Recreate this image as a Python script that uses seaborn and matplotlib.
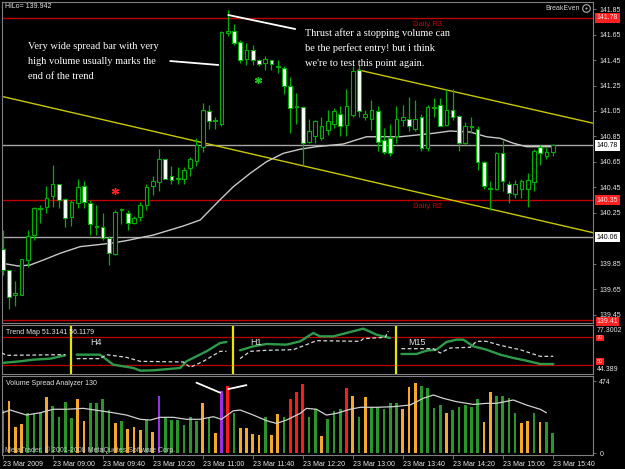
import matplotlib
matplotlib.use('Agg')
import matplotlib.pyplot as plt
import numpy as np
import pandas as pd
import seaborn as sns
from matplotlib.lines import Line2D

# ---------------- data ----------------
bar_idx = list(range(89))
opens = [139.97,139.80,139.61,139.61,139.88,140.08,140.28,140.30,140.38,140.48,
         140.36,140.22,140.33,140.46,140.33,140.15,140.14,140.05,139.93,140.28,
         140.25,140.17,140.22,140.31,140.46,140.49,140.67,140.54,140.515,140.52,
         140.60,140.66,140.77,141.05,140.98,140.95,141.665,141.68,141.59,141.46,
         141.53,141.45,141.43,141.45,141.395,141.39,141.25,141.08,141.08,140.81,
         140.85,140.84,140.90,140.95,141.03,140.94,141.02,141.37,141.00,140.99,
         141.05,140.82,140.84,140.85,140.98,140.985,140.91,141.00,140.76,141.075,
         141.10,140.94,141.06,141.01,140.80,140.935,140.91,140.65,140.44,140.44,
         140.72,140.48,140.40,140.44,140.44,140.49,140.77,140.70,140.73]
highs = [140.12,139.80,139.72,139.89,140.12,140.30,140.31,140.46,140.63,140.48,
         140.37,140.35,140.52,140.50,140.35,140.31,140.25,140.07,140.27,140.29,
         140.27,140.23,140.34,140.48,140.54,140.75,140.67,140.62,140.61,140.61,
         140.69,140.84,141.11,141.10,141.00,141.68,141.84,141.73,141.61,141.58,
         141.57,141.46,141.48,141.45,141.45,141.40,141.32,141.19,141.09,140.99,
         140.98,141.00,141.06,141.07,141.09,141.22,141.40,141.41,141.06,141.14,
         141.09,140.92,140.95,141.09,141.10,141.16,141.14,141.03,141.10,141.15,
         141.15,141.22,141.22,141.02,140.96,141.00,140.93,140.66,140.50,140.73,
         140.82,140.50,140.51,140.52,140.56,140.75,140.78,140.77,140.79]
lows = [139.76,139.50,139.52,139.61,139.83,140.04,140.17,140.25,140.30,140.29,
        140.14,140.15,140.29,140.29,140.08,140.08,140.04,139.84,139.92,140.16,
        140.12,140.16,140.19,140.27,140.39,140.42,140.52,140.48,140.48,140.48,
        140.54,140.62,140.73,140.91,140.91,140.93,141.64,141.57,141.43,141.41,
        141.41,141.40,141.37,141.37,141.345,141.18,140.88,140.95,140.63,140.80,
        140.80,140.82,140.86,140.92,140.85,140.85,141.00,141.00,140.98,140.90,
        140.74,140.71,140.70,140.80,140.93,140.89,140.89,140.74,140.74,141.00,
        140.93,140.93,140.98,140.74,140.78,140.875,140.59,140.44,140.27,140.43,
        140.42,140.33,140.37,140.37,140.30,140.42,140.63,140.67,140.70]
closes = [139.80,139.59,139.62,139.89,140.07,140.29,140.29,140.37,140.48,140.35,
          140.21,140.34,140.45,140.34,140.16,140.14,140.05,139.94,140.26,140.27,
          140.17,140.21,140.31,140.45,140.50,140.67,140.52,140.51,140.52,140.59,
          140.67,140.78,141.06,140.97,140.975,141.67,141.675,141.58,141.45,141.53,
          141.45,141.42,141.46,141.42,141.40,141.25,141.07,141.085,140.80,140.89,
          140.97,140.93,140.97,141.05,140.93,141.09,141.36,141.05,141.03,141.06,
          140.81,140.73,140.72,140.99,141.00,140.93,140.99,140.76,141.08,141.085,
          140.93,141.06,141.00,140.80,140.93,140.925,140.65,140.46,140.445,140.72,
          140.50,140.41,140.48,140.50,140.51,140.74,140.72,140.73,140.78]

ma_x = [0,2.5,4.4,6.5,9.2,12.4,17.2,19.8,24.1,28.9,31.6,34.5,36.9,39.6,42.2,44.9,
        47.6,50.2,54.5,58.2,63.6,68.9,71.6,74.8,77.4,79.6,81.7,83.8,88.1]
ma_y = [139.855,139.834,139.842,139.881,139.934,139.986,140.012,140.033,140.077,
        140.148,140.195,140.34,140.456,140.561,140.652,140.718,140.75,140.77,140.791,
        140.848,140.848,140.875,140.893,140.885,140.848,140.836,140.797,140.77,140.77]

trend1_x = [0.1, 94.5]
trend1_y = [141.162, 140.095]
trend2_x = [56.9, 94.5]
trend2_y = [141.372, 140.954]

red_levels = [141.78, 140.35, 139.41]
gray_levels = [140.78, 140.06]
price_ticks = [141.85,141.65,141.45,141.25,141.05,140.85,140.65,140.45,140.25,139.85,139.65,139.45]

note1_x = [26.8, 34.5]; note1_y = [141.442, 141.411]
note2_x = [36.1, 46.8]; note2_y = [141.803, 141.693]

# Trend Map
tm_g1_x = [-0.16,2.77,4.9,7.6,10.0]
tm_g1_y = [51.45,52.65,53.85,54.58,56.98]
tm_w1_x = [-0.16,0.64,10.0]
tm_w1_y = [58.67,56.98,57.46]
tm_g2_x = [11.84,15.57,17.7,20.9,22.0,24.1,28.4,29.4,32.6,34.8,35.8]
tm_g2_y = [57.46,57.46,50.24,47.84,45.91,46.15,47.84,52.65,59.87,65.89,66.61]
tm_w2_x = [11.84,15.57,16.6,19.8,22.0,28.9,30.0,32.1,34.8,35.8]
tm_w2_y = [54.58,54.58,57.46,55.54,52.65,52.17,48.32,52.65,59.87,59.87]
tm_g3_x = [37.97,40.1,42.2,45.4,47.6,49.7,50.77,52.9,55.0,57.7,59.8,61.97]
tm_g3_y = [60.59,63.48,65.17,64.68,67.09,73.11,70.70,70.70,73.11,76.24,71.91,69.50]
tm_w3_x = [37.97,39.6,42.2,46.5,48.6,50.2,57.2,57.7,61.2,61.7]
tm_w3_y = [54.58,59.87,60.59,61.07,64.68,67.57,67.09,69.02,70.0,74.31]
tm_g4_x = [63.8,66.2,67.8,69.4,71.0,72.6,73.7,75.3,77.4,79.6,81.7,83.8,86.0,88.1]
tm_g4_y = [57.94,57.94,60.35,61.07,66.61,68.29,68.29,63.48,61.07,57.46,55.06,53.13,50.72,50.72]
tm_w4_x = [63.8,68.9,70.0,71.6,74.8,75.8,77.4,79.6,82.8,86.0,88.1]
tm_w4_y = [61.80,61.80,58.67,62.28,62.76,67.09,67.09,64.20,61.07,56.26,56.26]
tm_sep_x = [10.9, 36.9, 62.9]
tm_levels = [70, 50]
tm_names = ['H4', 'H1', 'M15']
tm_name_x = [14.9, 40.6, 66.3]

# Volume
volumes = [283,342,173,189,261,261,265,366,309,235,
           333,228,355,211,331,331,353,283,195,213,
           156,169,151,217,136,375,239,217,217,184,
           235,213,327,239,134,408,441,265,162,162,
           125,118,239,118,257,239,353,399,454,239,
           288,112,222,278,288,425,375,235,366,301,
           305,288,331,327,288,432,463,441,425,294,
           316,265,283,301,316,305,353,206,404,377,
           375,360,261,195,213,261,206,202,129]
vol_kind = ['G','O','O','O','G','G','G','O','G','G',
            'G','G','O','O','G','G','G','G','O','G',
            'O','O','O','G','O','P','G','G','G','G',
            'G','G','O','G','O','P','R','G','O','O',
            'O','O','G','O','O','G','R','R','R','G',
            'G','O','G','G','G','R','O','G','O','G',
            'G','G','G','G','O','O','O','G','G','G',
            'G','O','G','G','G','G','G','O','O','G',
            'G','G','G','O','O','G','O','G','G']
vma_x = [0,1.2,3.8,6.0,8.1,10.2,12.9,15.6,17.7,19.8,22.0,23.6,25.2,27.3,29.4,31.6,33.7,
         35.0,36.9,38.0,40.1,42.2,43.8,45.4,47.6,48.6,50.2,51.8,53.4,55.6,57.2,59.8,
         62.5,65.2,67.3,68.9,70.5,72.6,75.3,77.4,79.0,81.7,83.8,86.0,87.0]
vma_y = [265,283,250,265,288,288,294,278,265,250,222,217,235,235,222,222,239,
         222,278,283,250,213,195,217,261,294,288,250,261,288,301,301,
         305,316,360,382,360,338,320,327,327,349,316,288,265]
vnote1_x = [31.0, 34.8]; vnote1_y = [463, 397]
vnote2_x = [36.1, 39.0]; vnote2_y = [421, 447]

time_ticks = [0,8,16,24,32,40,48,56,64,72,80,88]
time_labels = ['23 Mar 2009','23 Mar 09:00','23 Mar 09:40','23 Mar 10:20','23 Mar 11:00',
               '23 Mar 11:40','23 Mar 12:20','23 Mar 13:00','23 Mar 13:40','23 Mar 14:20',
               '23 Mar 15:00','23 Mar 15:40']

# ---------------- style ----------------
sns.set_style('ticks')
plt.rcParams['font.family'] = ['Liberation Sans', 'DejaVu Sans']
plt.rcParams['patch.edgecolor'] = 'none'
W, H = 625, 469
fig = plt.figure(figsize=(W/100, H/100), dpi=100, facecolor='black')

def add_ax(l, t, r, b):
    return fig.add_axes([l/W, 1 - b/H, (r - l)/W, (b - t)/H])

ax = add_ax(2, 2, 593, 323)
ax_tm = add_ax(2, 325, 593, 374)
ax_v = add_ax(2, 376, 593, 455)
XL = (-0.11, 94.45)
TXT = '#e6e6e6'
for a in (ax, ax_tm, ax_v):
    a.set_facecolor('black')
    for s in a.spines.values():
        s.set_color('#808080'); s.set_linewidth(0.8)
    a.set_xlim(*XL)
    a.tick_params(axis='x', bottom=False, labelbottom=False)
    a.yaxis.tick_right()
    a.tick_params(axis='y', colors='#808080', labelcolor=TXT, labelsize=5,
                  length=2.5, width=0.6, pad=2)

# ---------- main price panel ----------
GREEN = '#00b000'
ax.set_ylim(139.387, 141.905)
ax.set_yticks(price_ticks)
ax.set_yticklabels([f'{t:.2f}' for t in price_ticks])
for lv in red_levels:
    ax.axhline(lv, color='#c00000', lw=1.0, zorder=1)
for lv in gray_levels:
    ax.axhline(lv, color='#a8a8a8', lw=1.0, zorder=1)

sns.lineplot(x=trend1_x, y=trend1_y, color='#c8c800', lw=1.0, ax=ax, estimator=None, sort=False, zorder=2)
sns.lineplot(x=trend2_x, y=trend2_y, color='#c8c800', lw=1.0, ax=ax, estimator=None, sort=False, zorder=2)
sns.lineplot(x=ma_x, y=ma_y, color='#c8c8c8', lw=1.0, ax=ax, estimator=None, sort=False, zorder=2)

o = np.array(opens); c = np.array(closes)
ax.vlines(bar_idx, lows, highs, color=GREEN, lw=0.9, zorder=3)
bottoms = np.minimum(o, c)
heights = np.maximum(np.abs(c - o), 0.006)
faces = ['black' if cc >= oo else 'white' for oo, cc in zip(opens, closes)]
ax.bar(bar_idx, heights, bottom=bottoms, width=0.58, color=faces,
       edgecolor=GREEN, linewidth=0.8, zorder=4)

ax.plot([40.9], [141.293], marker=(6, 2, 0), ms=5, color='#20c020', mew=1, ls='none', zorder=5)
ax.plot([18.0], [140.423], marker=(6, 2, 0), ms=5, color='#ff2020', mew=1, ls='none', zorder=5)

sns.lineplot(x=note1_x, y=note1_y, color='white', lw=1.3, ax=ax, estimator=None, sort=False, zorder=5)
sns.lineplot(x=note2_x, y=note2_y, color='white', lw=1.3, ax=ax, estimator=None, sort=False, zorder=5)

ax.text(67.9, 141.725, 'Daily R3', color='#d00000', fontsize=5.5, ha='center', va='center')
ax.text(67.9, 140.30, 'Daily R2', color='#d00000', fontsize=5.5, ha='center', va='center')

ytr = ax.get_yaxis_transform()
def lvl_label(a, tr, y, s, fc, tc, pad=0.25):
    a.text(1.006, y, s, transform=tr, fontsize=5, color=tc, ha='left', va='center',
           clip_on=False, zorder=10,
           bbox=dict(boxstyle=f'square,pad={pad}', fc=fc, ec='none'))
lvl_label(ax, ytr, 141.78, '141.78', '#ff2020', '#ffe0e0')
lvl_label(ax, ytr, 140.78, '140.78', 'white', 'black')
lvl_label(ax, ytr, 140.35, '140.35', '#ff2020', '#ffe0e0')
lvl_label(ax, ytr, 140.06, '140.06', 'white', 'black')
lvl_label(ax, ytr, 139.40, '139.41', '#ff2020', '#ffe0e0', pad=0.1)

serif = ['Liberation Serif', 'DejaVu Serif']
for k, line in enumerate(['Very wide spread bar with very', 'high volume usually marks the', 'end of the trend']):
    fig.text(28/W, 1 - (46.7 + 15*k)/H, line, fontsize=7.5, family=serif, color='white', va='center')
for k, line in enumerate(['Thrust after a stopping volume can', 'be the perfect entry! but i think',
                          "we're to test this point again."]):
    fig.text(305/W, 1 - (33.3 + 15*k)/H, line, fontsize=7.5, family=serif, color='white', va='center')

fig.text(5/W, 1 - 7/H, 'HiLo= 139.942', fontsize=5, color=TXT, va='center')
fig.text(580/W, 1 - 8.5/H, 'BreakEven', fontsize=5, color='#d0d0d0', va='center', ha='right')
fig.add_artist(Line2D([586/W], [1 - 8.5/H], marker='o', ms=5.5, mfc='none', mec='#b0b0b0',
                      mew=0.8, transform=fig.transFigure))
fig.add_artist(Line2D([586/W], [1 - 8.5/H], marker='o', ms=1.5, mfc='#b0b0b0', mec='none',
                      transform=fig.transFigure))

# ---------- trend map panel ----------
ax_tm.set_ylim(43.5, 78.88)
ax_tm.set_yticks([])
for lv in tm_levels:
    ax_tm.axhline(lv, color='#c00000', lw=0.9, zorder=1)
for xv in tm_sep_x:
    ax_tm.axvline(xv, color='#e6e600', lw=1.6, zorder=2)
for gx, gy in [(tm_g1_x, tm_g1_y), (tm_g2_x, tm_g2_y), (tm_g3_x, tm_g3_y), (tm_g4_x, tm_g4_y)]:
    sns.lineplot(x=gx, y=gy, color='#2e9a4a', lw=1.7, ax=ax_tm, estimator=None, sort=False, zorder=3)
for wx, wy in [(tm_w1_x, tm_w1_y), (tm_w2_x, tm_w2_y), (tm_w3_x, tm_w3_y), (tm_w4_x, tm_w4_y)]:
    sns.lineplot(x=wx, y=wy, color='#d8d8d8', lw=0.9, ax=ax_tm, estimator=None, sort=False,
                 zorder=3, linestyle=(0, (3, 2)))
for nm, nx in zip(tm_names, tm_name_x):
    ax_tm.text(nx, 65.9, nm, color='#e0e0e0', fontsize=6.5, ha='center', va='center')
ax_tm.text(0.007, 0.84, 'Trend Map 51.3141 56.1179', transform=ax_tm.transAxes, fontsize=5,
           color=TXT, va='center')
tmt = ax_tm.get_yaxis_transform()
ax_tm.text(1.006, 0.88, '77.3002', transform=ax_tm.transAxes, fontsize=5, color=TXT, va='center', clip_on=False)
ax_tm.text(1.006, 0.09, '44.389', transform=ax_tm.transAxes, fontsize=5, color=TXT, va='center', clip_on=False)
ax_tm.text(1.006, 69.5, '70', transform=tmt, fontsize=4, color='#ffd0d0', va='center', clip_on=False,
           bbox=dict(boxstyle='square,pad=0.15', fc='#ff2020', ec='none'))
ax_tm.text(1.006, 52.4, '50', transform=tmt, fontsize=4, color='#ffd0d0', va='center', clip_on=False,
           bbox=dict(boxstyle='square,pad=0.15', fc='#ff2020', ec='none'))

# ---------- volume panel ----------
vol_palette = {'G': '#2a962a', 'O': '#f5a82a', 'R': '#ff1a1a', 'P': '#9a30e0'}
df_vol = pd.DataFrame({'bar': bar_idx, 'volume': volumes, 'kind': vol_kind})
sns.barplot(data=df_vol, x='bar', y='volume', hue='kind', palette=vol_palette, dodge=False,
            native_scale=True, width=0.42, saturation=1, legend=False, errorbar=None, ax=ax_v,
            edgecolor='none', linewidth=0)
sns.lineplot(x=vma_x, y=vma_y, color='#d0d0d0', lw=0.9, ax=ax_v, estimator=None, sort=False, zorder=4)
sns.lineplot(x=vnote1_x, y=vnote1_y, color='white', lw=1.3, ax=ax_v, estimator=None, sort=False, zorder=5)
sns.lineplot(x=vnote2_x, y=vnote2_y, color='white', lw=1.3, ax=ax_v, estimator=None, sort=False, zorder=5)
ax_v.set_xlim(*XL)
ax_v.set_ylim(-13, 507)
ax_v.set_xlabel(''); ax_v.set_ylabel('')
ax_v.set_yticks([474, 0])
ax_v.set_yticklabels(['474', '0'])
ax_v.yaxis.tick_right()
ax_v.tick_params(axis='y', colors='#808080', labelcolor=TXT, labelsize=5, length=2.5, width=0.6, pad=2)
ax_v.set_xticks(time_ticks)
ax_v.set_xticklabels(time_labels, ha='left')
ax_v.tick_params(axis='x', bottom=True, labelbottom=True, colors='#808080', labelcolor=TXT,
                 labelsize=5, length=3, width=0.6, pad=1)
ax_v.text(0.007, 0.9, 'Volume Spread Analyzer 130', transform=ax_v.transAxes, fontsize=5,
          color=TXT, va='center')
ax_v.text(0.005, 0.06, 'MetaTrader, \u00a9 2001-2008 MetaQuotes Software Corp.', transform=ax_v.transAxes,
          fontsize=5, color='#c8c8c8', va='center', zorder=6)

fig.savefig('out.png', dpi=100, facecolor='black')
